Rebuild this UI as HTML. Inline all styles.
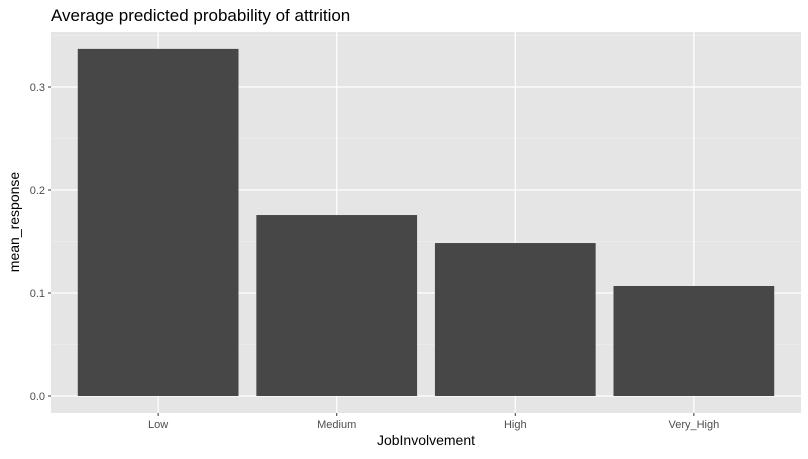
<!DOCTYPE html>
<html><head><meta charset="utf-8"><style>
body{margin:0;background:#fff;font-family:"Liberation Sans",sans-serif}
</style></head><body>
<svg id="chart" width="808" height="454" xmlns="http://www.w3.org/2000/svg">
<text x="51" y="21" font-size="17" fill="#000">Average predicted probability of attrition</text>
<rect x="51" y="32" width="750" height="381" fill="#e5e5e5"/>
<g id="grid"></g><g id="bars"></g><g id="axes"></g>
<text x="426" y="445" font-size="14" text-anchor="middle">JobInvolvement</text>
<text transform="translate(19,222) rotate(-90)" font-size="14" text-anchor="middle">mean_response</text>
</svg>
<script>
const categories=["Low","Medium","High","Very_High"];
const values=[0.337,0.1757,0.1485,0.1068];
const yTicks=[0,0.1,0.2,0.3];
const yTickLabels=["0.0","0.1","0.2","0.3"];
const NS="http://www.w3.org/2000/svg";
const pLeft=51,pRight=801,pTop=32,pBottom=413;
const y0=396,pxPer=1030;
function yScale(v){return y0-v*pxPer;}
const step=(pRight-pLeft)/(categories.length-1+1.2);
function xScale(i){return pLeft+step*(0.6+i);}
const bw=step*0.9;
function mk(tag,attrs,parent){const e=document.createElementNS(NS,tag);for(const k in attrs)e.setAttribute(k,attrs[k]);parent.appendChild(e);return e;}
const grid=document.getElementById('grid'),bars=document.getElementById('bars'),axes=document.getElementById('axes');
for(let v=-0.05;v<=0.36;v+=0.1){const yy=yScale(v);if(yy<pTop||yy>pBottom)continue;const l=mk('line',{x1:pLeft,x2:pRight,y1:yy,y2:yy,stroke:'#f2f2f2','stroke-width':0.6},grid);

}
yTicks.forEach((v,i)=>{const yy=yScale(v);
const g=mk('line',{x1:pLeft,x2:pRight,y1:yy,y2:yy,stroke:'#fff','stroke-width':1.2},grid);


const t=mk('line',{x1:pLeft-3,x2:pLeft,y1:yy,y2:yy,stroke:'#333','stroke-width':1},axes);


const tx=mk('text',{x:pLeft-6,y:yy+4,'font-size':11,'text-anchor':'end',fill:'#4d4d4d'},axes);tx.textContent=yTickLabels[i];

});
categories.forEach((c,i)=>{const cx=xScale(i);
const g=mk('line',{x1:cx,x2:cx,y1:pTop,y2:pBottom,stroke:'#fff','stroke-width':1.2},grid);


const b=mk('rect',{x:cx-bw/2,y:yScale(values[i]),width:bw,height:yScale(0)-yScale(values[i]),fill:'#474747'},bars);


const t=mk('line',{x1:cx,x2:cx,y1:pBottom,y2:pBottom+3,stroke:'#333','stroke-width':1},axes);


const tx=mk('text',{x:cx,y:pBottom+15,'font-size':11,'text-anchor':'middle',fill:'#4d4d4d'},axes);tx.textContent=c;

});
</script>
</body></html>
